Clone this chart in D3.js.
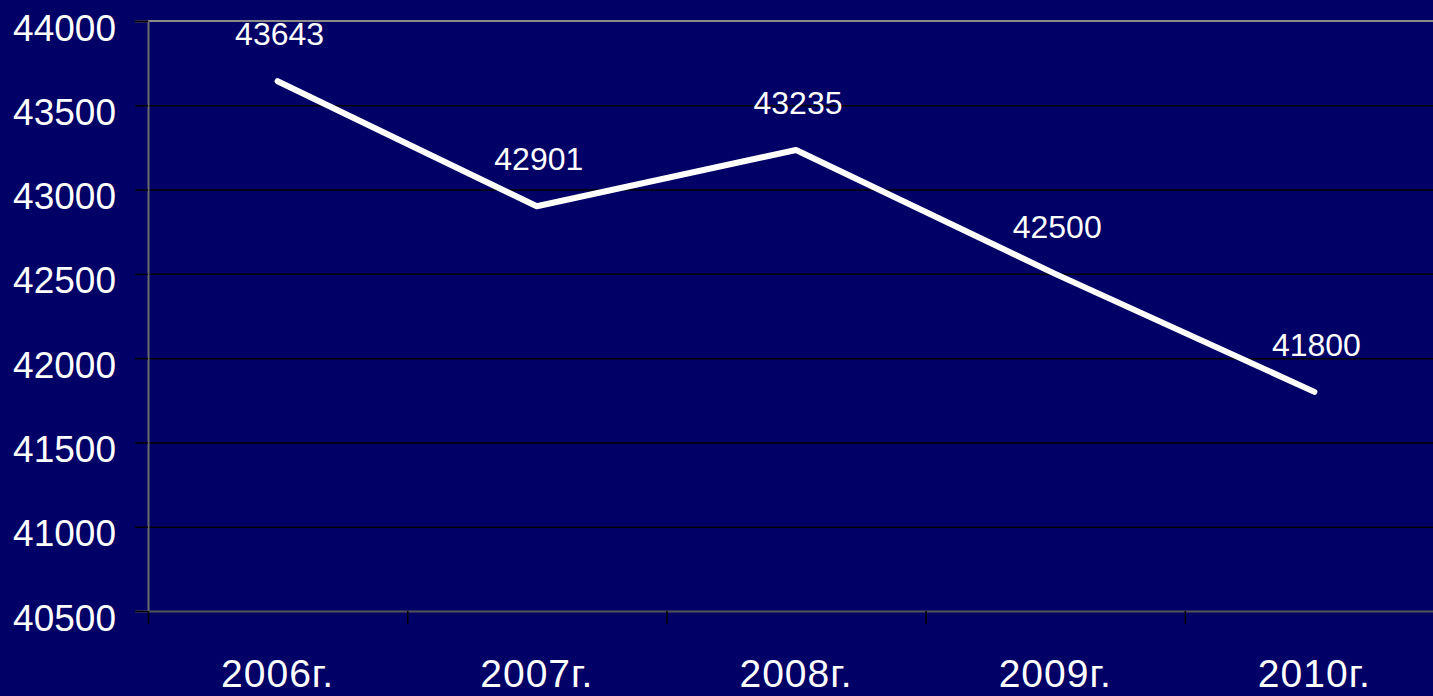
<!DOCTYPE html>
<html>
<head>
<meta charset="utf-8">
<script src="https://cdn.jsdelivr.net/npm/d3@7"></script>
<style>
  html, body { margin: 0; padding: 0; background: #000066; overflow: hidden; }
  svg { display: block; }
  text { font-family: "Liberation Sans", Arial, sans-serif; fill: #ffffff; }
</style>
</head>
<body>
<script>
// chart data
const years = ['2006г.', '2007г.', '2008г.', '2009г.', '2010г.'];
const values = [43643, 42901, 43235, 42500, 41800];
const yTicks = [40500, 41000, 41500, 42000, 42500, 43000, 43500, 44000];

const width = 1433, height = 696;
const margin = { left: 148, top: 21, right: -11, bottom: 85 };

const svg = d3.select('body').append('svg')
    .attr('width', width)
    .attr('height', height);

svg.append('rect')
    .attr('width', width)
    .attr('height', height)
    .attr('fill', '#000066');

const x = d3.scaleBand()
    .domain(years)
    .range([margin.left, width - margin.right]);

const y = d3.scaleLinear()
    .domain([40500, 44000])
    .range([height - margin.bottom, margin.top]);

// horizontal gridlines
svg.append('g')
    .selectAll('line')
    .data(yTicks.filter(d => d > 40500 && d < 44000))
    .join('line')
    .attr('x1', margin.left)
    .attr('x2', width)
    .attr('y1', d => y(d) + 0.5)
    .attr('y2', d => y(d) + 0.5)
    .attr('stroke', '#000000')
    .attr('stroke-width', 1.5);

// top border
svg.append('line')
    .attr('x1', margin.left).attr('x2', width)
    .attr('y1', y(44000)).attr('y2', y(44000))
    .attr('stroke', '#8a8a8a')
    .attr('stroke-width', 2);

// y axis
const yAxis = svg.append('g')
    .attr('transform', `translate(${margin.left},0)`)
    .call(d3.axisLeft(y).tickValues(yTicks).tickSize(13).tickPadding(19).tickFormat(d3.format('d')));
yAxis.select('.domain').attr('stroke', '#6a6a6a').attr('stroke-width', 2);
yAxis.selectAll('.tick line').attr('stroke', '#000000').attr('stroke-width', 1.5);
yAxis.selectAll('.tick text')
    .attr('dy', 19)
    .style('font-size', '37px')
    .attr('fill', '#ffffff');

// x axis
const xAxis = svg.append('g')
    .attr('transform', `translate(0,${y(40500)})`)
    .call(d3.axisBottom(x).tickSize(0).tickPadding(0));
xAxis.select('.domain').attr('stroke', '#555555').attr('stroke-width', 2);
xAxis.selectAll('.tick text')
    .attr('y', 0)
    .attr('dy', 76)
    .style('font-size', '39px')
    .style('letter-spacing', '1px')
    .attr('fill', '#ffffff');

// category boundary ticks
svg.append('g')
    .selectAll('line')
    .data(years)
    .join('line')
    .attr('x1', d => x(d) + 0.5)
    .attr('x2', d => x(d) + 0.5)
    .attr('y1', y(40500))
    .attr('y2', y(40500) + 13)
    .attr('stroke', '#000000')
    .attr('stroke-width', 1.5);

// the line
const line = d3.line()
    .x((d, i) => x(years[i]) + x.bandwidth() / 2)
    .y(d => y(d));

svg.append('path')
    .datum(values)
    .attr('d', line)
    .attr('fill', 'none')
    .attr('stroke', '#ffffff')
    .attr('stroke-width', 6)
    .attr('stroke-linecap', 'round')
    .attr('stroke-linejoin', 'round');

// data labels
svg.append('g')
    .selectAll('text')
    .data(values)
    .join('text')
    .attr('x', (d, i) => x(years[i]) + x.bandwidth() / 2 + 2)
    .attr('y', d => y(d) - 36)
    .attr('text-anchor', 'middle')
    .style('font-size', '32px')
    .text(d => d);
</script>
</body>
</html>
